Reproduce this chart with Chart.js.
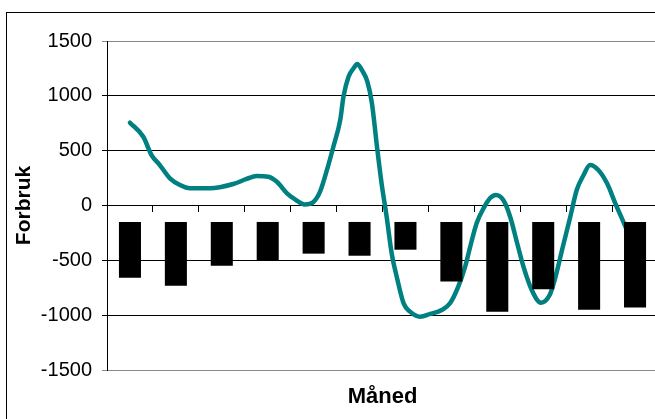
<!DOCTYPE html>
<html>
<head>
<meta charset="utf-8">
<script src="https://cdn.jsdelivr.net/npm/chart.js@4"></script>
<style>
  html, body { margin: 0; padding: 0; background: #fff; overflow: hidden; }
  #chart { position: absolute; left: 0; top: 0; }
</style>
</head>
<body>
<canvas id="chart" width="700" height="440"></canvas>
<script>
// Months (no labels shown on the axis)
const months = ['jan', 'feb', 'mar', 'apr', 'mai', 'jun', 'jul', 'aug', 'sep', 'okt', 'nov', 'des'];

// Bars float from a common base down to the monthly value
const barBase = -150;
const barValues = [-658, -731, -549, -497, -439, -458, -403, -694, -968, -764, -950, -931];

// Smooth curve, x given in month units (0 = start of jan, 12 = end of des)
const curveX = [0.50, 0.79, 0.97, 1.15, 1.37, 1.59, 1.81, 2.24, 2.75, 3.04, 3.26, 3.51, 3.70, 3.92, 4.08,
  4.31, 4.49, 4.64, 4.79, 4.93, 5.08, 5.15, 5.26, 5.37, 5.45, 5.55, 5.67, 5.77, 5.88, 5.98,
  6.09, 6.20, 6.31, 6.46, 6.60, 6.82, 7.04, 7.29, 7.47, 7.65, 7.80, 7.91, 8.05, 8.20, 8.34,
  8.47, 8.63, 8.78, 8.93, 9.07, 9.25, 9.45, 9.64, 9.76, 9.91, 10.09, 10.23, 10.38, 10.52, 10.70,
  10.89, 11.07, 11.26, 11.40];
const curveY = [755, 627, 460, 369, 248, 187, 157, 157, 196, 242, 269, 263, 217, 111, 60,
  10, 30, 126, 324, 536, 780, 992, 1174, 1251, 1290, 1236, 1129, 932, 536, 202,
  -102, -436, -649, -892, -968, -1014, -989, -953, -892, -740, -558, -376, -162, -26, 66,
  96, 50, -102, -340, -558, -770, -886, -816, -664, -406, -102, 141, 278, 369, 324,
  202, 20, -162, -300];

// y axis ticks
const yMin = -1500;
const yMax = 1500;
const yStep = 500;

const fontFamily = '"Liberation Sans", Arial, sans-serif';

// white background + outer frame
const framePlugin = {
  id: 'frame',
  beforeDraw(chart) {
    const ctx = chart.ctx;
    ctx.save();
    ctx.fillStyle = '#fff';
    ctx.fillRect(0, 0, chart.width, chart.height);
    ctx.strokeStyle = '#000';
    ctx.lineWidth = 1;
    ctx.strokeRect(6.5, 12.5, chart.width, chart.height);
    ctx.restore();
  }
};

const ctx = document.getElementById('chart').getContext('2d');
new Chart(ctx, {
  type: 'bar',
  data: {
    labels: months,
    datasets: [
      {
        type: 'bar',
        label: 'Forbruk',
        data: barValues.map(v => [barBase, v]),
        backgroundColor: '#000',
        borderWidth: 0,
        grouped: false,
        barPercentage: 0.48,
        categoryPercentage: 1.0,
        xAxisID: 'x',
        order: 0
      },
      {
        type: 'line',
        label: 'Kurve',
        data: curveX.map((x, i) => ({ x: x, y: curveY[i] })),
        borderColor: '#008080',
        borderWidth: 4.5,
        pointRadius: 0,
        fill: false,
        cubicInterpolationMode: 'monotone',
        borderCapStyle: 'round',
        borderJoinStyle: 'round',
        xAxisID: 'xLine',
        order: 1
      }
    ]
  },
  plugins: [framePlugin],
  options: {
    responsive: false,
    animation: false,
    devicePixelRatio: 1,
    layout: { padding: { top: 41, right: 42, left: 0, bottom: 0 } },
    plugins: {
      legend: { display: false },
      tooltip: { enabled: false }
    },
    scales: {
      x: {
        type: 'category',
        position: 'bottom',
        offset: true,
        grid: { display: false },
        border: { display: false },
        ticks: { display: false },
        title: {
          display: true,
          text: 'Måned',
          color: '#000',
          font: { family: fontFamily, size: 22, weight: 'bold' },
          padding: { top: 0, bottom: 30 }
        },
        afterFit(scale) { scale.height = 70; }
      },
      x0: {
        type: 'category',
        position: { y: 0 },
        offset: true,
        grid: { offset: true, drawOnChartArea: false, drawTicks: true, tickLength: 6, color: '#000' },
        border: { display: true, color: '#000', width: 1 },
        ticks: { display: false }
      },
      xLine: {
        type: 'linear',
        display: false,
        offset: false,
        bounds: 'data',
        min: 0,
        max: 12
      },
      y: {
        type: 'linear',
        position: 'left',
        min: yMin,
        max: yMax,
        ticks: {
          stepSize: yStep,
          color: '#000',
          padding: 10,
          font: { family: fontFamily, size: 20 },
          callback: v => String(v)
        },
        grid: {
          color: c => (c.tick && Math.abs(c.tick.value) === yMax) ? '#8a8a8a' : '#000',
          tickLength: 5,
          lineWidth: 1
        },
        border: { display: true, color: '#000', width: 1 },
        title: {
          display: true,
          text: 'Forbruk',
          color: '#000',
          font: { family: fontFamily, size: 21, weight: 'bold' },
          padding: { top: 12, bottom: 0 }
        },
        afterFit(scale) { scale.width = 107; }
      }
    }
  }
});
</script>
</body>
</html>
